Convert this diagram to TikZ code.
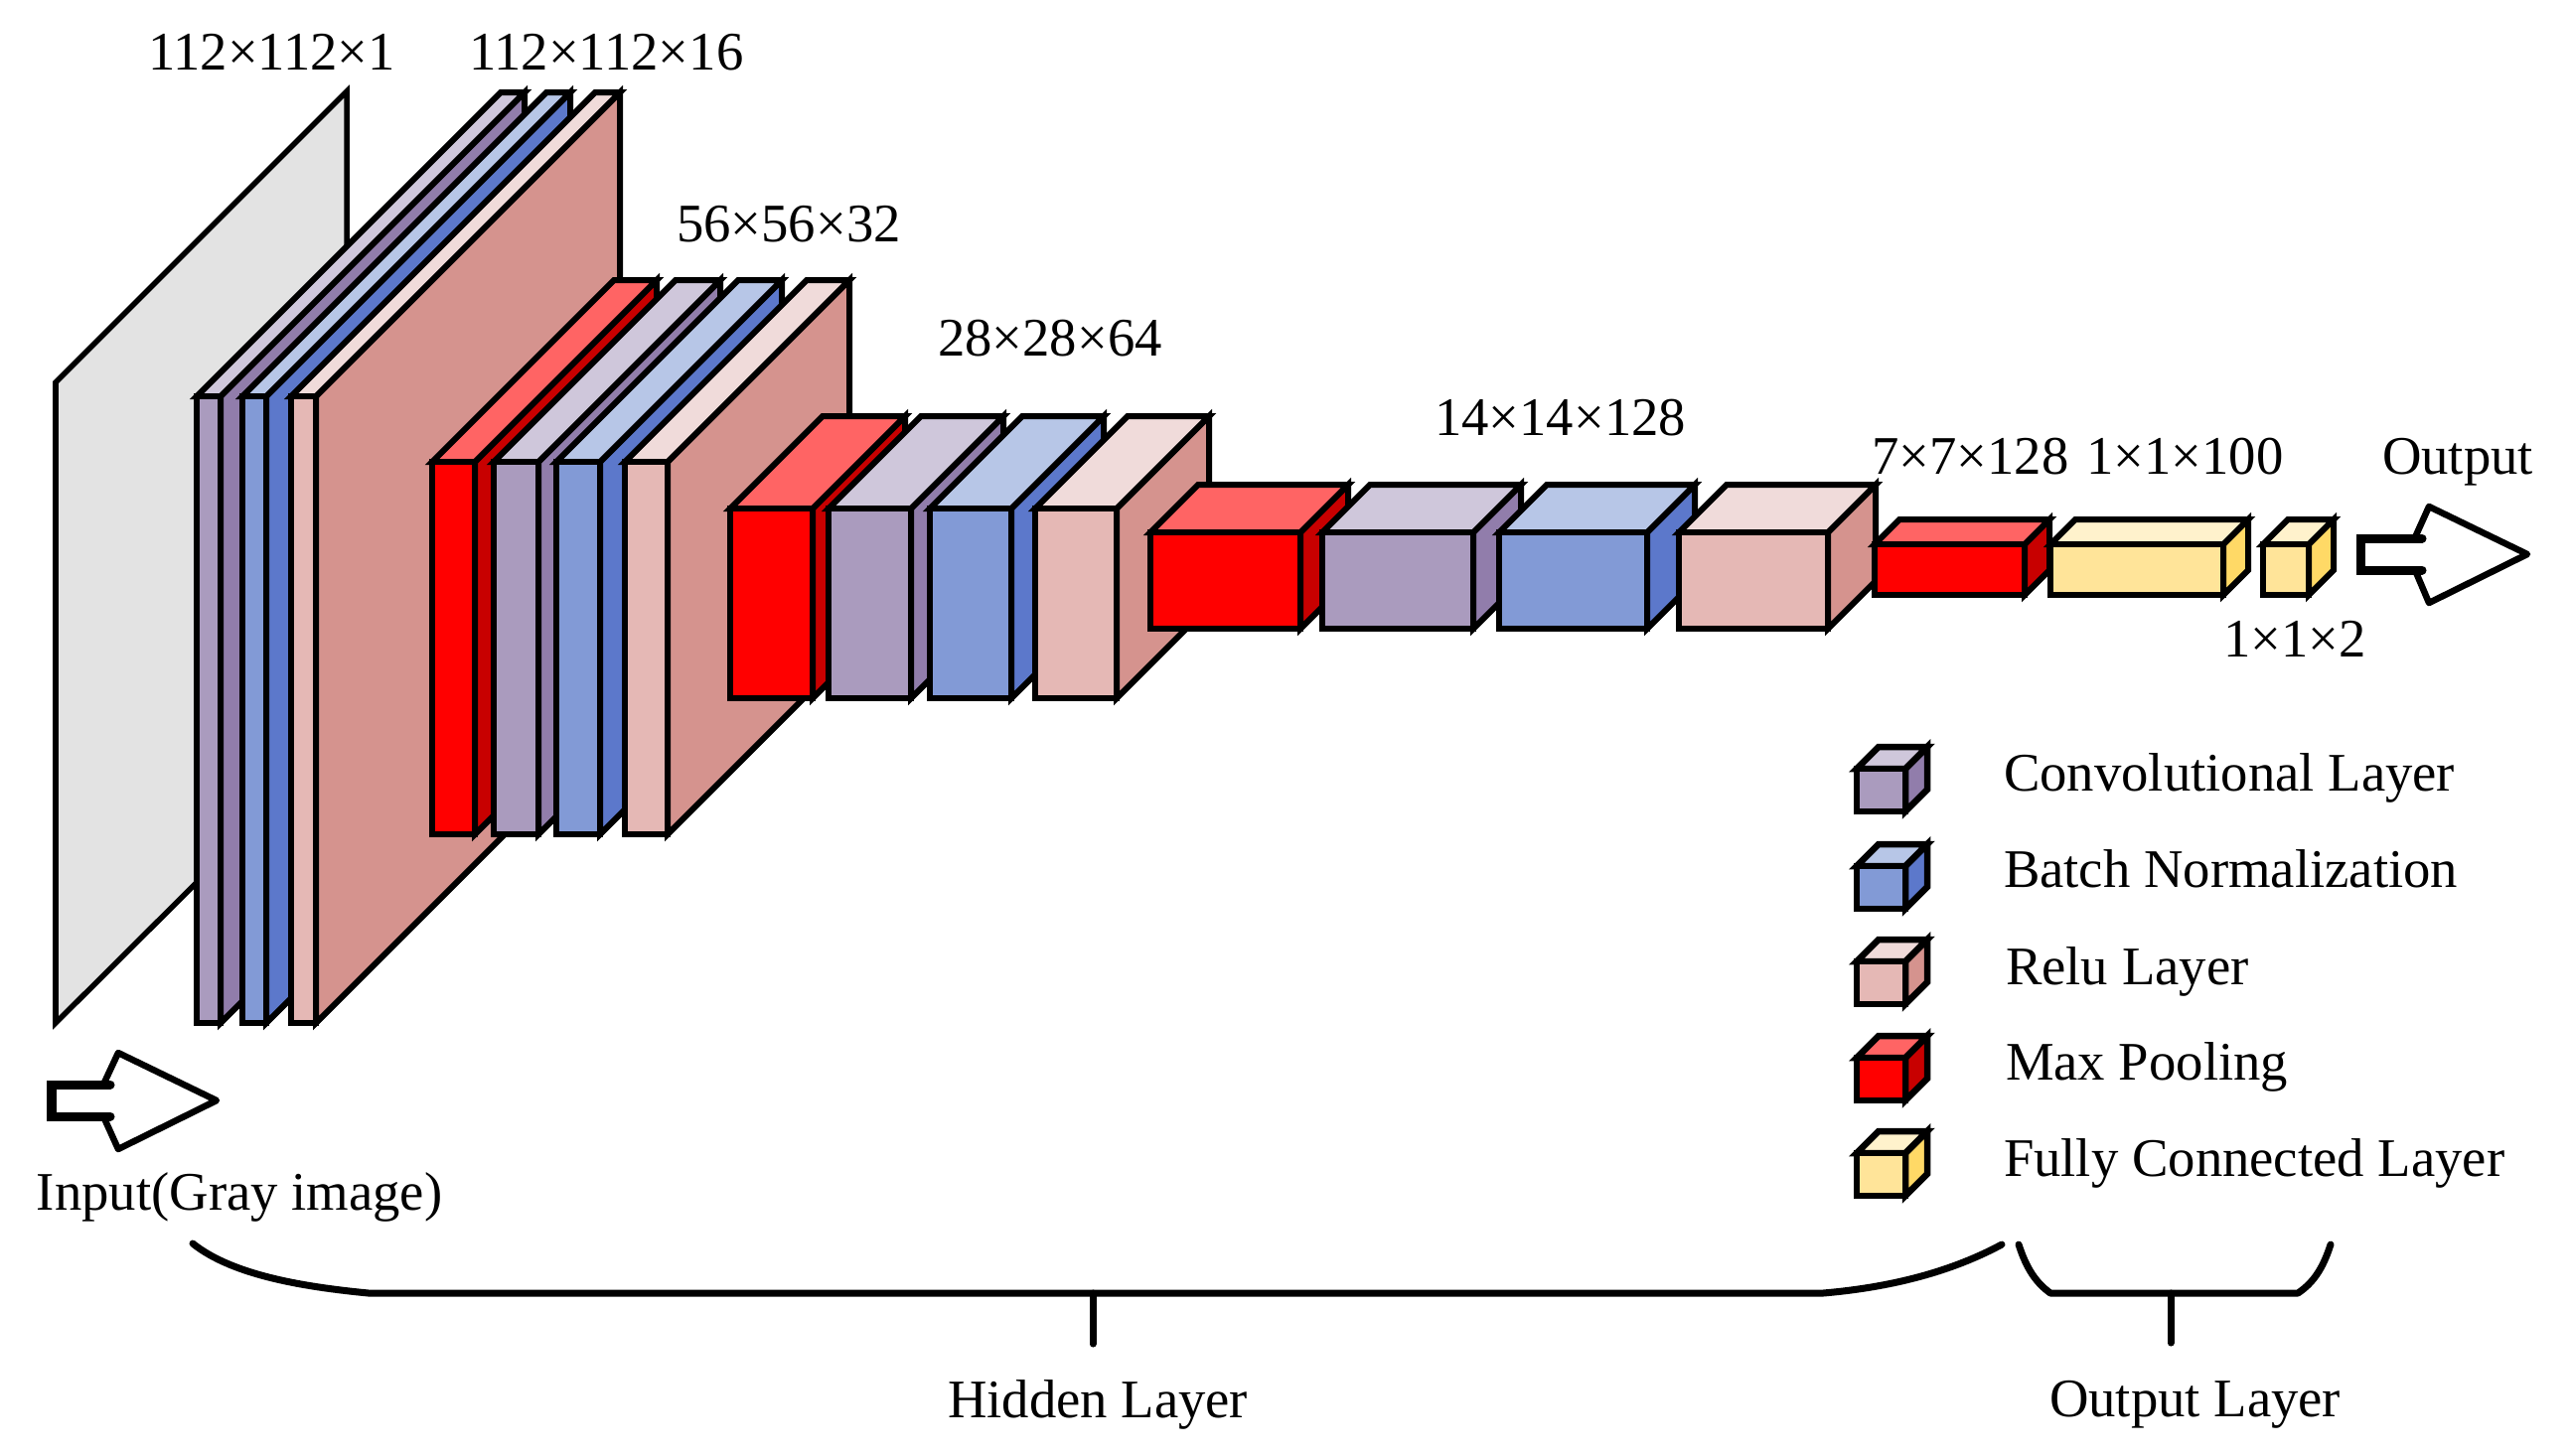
\documentclass[tikz,border=0pt]{standalone}
\usepackage{fontspec}
\setmainfont{Liberation Serif}
\definecolor{convF}{HTML}{AA9BBE}\definecolor{convT}{HTML}{CFC7DB}\definecolor{convS}{HTML}{917DAB}
\definecolor{bnF}{HTML}{829AD6}\definecolor{bnT}{HTML}{B7C6E7}\definecolor{bnS}{HTML}{5C78CB}
\definecolor{reluF}{HTML}{E5B8B5}\definecolor{reluT}{HTML}{F0DBDA}\definecolor{reluS}{HTML}{D5938E}
\definecolor{redF}{HTML}{FF0000}\definecolor{redT}{HTML}{FF6464}\definecolor{redS}{HTML}{C80000}
\definecolor{fcF}{HTML}{FFE499}\definecolor{fcT}{HTML}{FFF2CC}\definecolor{fcS}{HTML}{FFD966}
\definecolor{plane}{HTML}{E3E3E3}
\tikzset{
  blk/.style={draw=black,line width=0.06cm,line join=miter},
  boldblk/.style={blk/.append style={line width=0.065cm}},
  lbl/.style={anchor=base west,inner sep=0pt,outer sep=0pt,font=\fontsize{15.55}{18}\selectfont},
  brc/.style={draw=black,line width=0.07cm,line cap=round,line join=round},
  arrhead/.style={draw=black,line width=0.065cm,line join=round,line cap=round},
  arrtail/.style={draw=black,line width=0.09cm,line join=miter,line cap=round}
}
% x0 x1 ytop ybot depth colour
\newcommand{\cuboid}[6]{%
  \draw[blk,fill=#6S] (#2,#3) -- (#2+#5,#3-#5) -- (#2+#5,#4-#5) -- (#2,#4) -- cycle;
  \draw[blk,fill=#6T] (#1,#3) -- (#1+#5,#3-#5) -- (#2+#5,#3-#5) -- (#2,#3) -- cycle;
  \draw[blk,fill=#6F] (#1,#3) rectangle (#2,#4);
}
\begin{document}
\begin{tikzpicture}[x=0.01cm,y=-0.01cm]
\useasboundingbox (0,0) rectangle (2589,1465);
% input plane
\draw[blk,line width=0.055cm,fill=plane] (56,385) -- (349,92) -- (349,738) -- (56,1030) -- cycle;
% group 1
\cuboid{198}{222}{399}{1030}{306}{conv}
\cuboid{244}{268}{399}{1030}{306}{bn}
\cuboid{293}{318}{399}{1030}{306}{relu}
% group 2
\cuboid{435}{478}{465}{840}{183}{red}
\cuboid{497}{542}{465}{840}{183}{conv}
\cuboid{560}{604}{465}{840}{183}{bn}
\cuboid{629}{672}{465}{840}{183}{relu}
% group 3
\cuboid{735}{818}{512}{703}{93}{red}
\cuboid{834}{917}{512}{703}{93}{conv}
\cuboid{936}{1018}{512}{703}{93}{bn}
\cuboid{1042}{1124}{512}{703}{93}{relu}
% group 4
\cuboid{1158}{1309}{536}{633}{48}{red}
\cuboid{1331}{1483}{536}{633}{48}{conv}
\cuboid{1509}{1658}{536}{633}{48}{bn}
\cuboid{1690}{1840}{536}{633}{48}{relu}
% group 5
\cuboid{1887}{2038}{548}{599}{25}{red}
\cuboid{2064}{2238}{548}{599}{25}{fc}
\cuboid{2278}{2324}{548}{599}{25}{fc}
\begin{scope}[boldblk]
% legend cubes
\cuboid{1869}{1918}{774}{817}{22}{conv}
\cuboid{1869}{1918}{872}{915}{22}{bn}
\cuboid{1869}{1918}{968}{1011}{22}{relu}
\cuboid{1869}{1918}{1065}{1108}{22}{red}
\cuboid{1869}{1918}{1161}{1204}{22}{fc}
\end{scope}
% input arrow
\draw[arrhead] (105,1090) -- (119,1060) -- (218,1108) -- (119,1157) -- (105,1126);
\draw[arrtail] (111,1092) -- (52,1092) -- (52,1124) -- (111,1124);
% output arrow
\draw[arrhead] (2431,541) -- (2445,510) -- (2544,558) -- (2445,607) -- (2431,574);
\draw[arrtail] (2438,542) -- (2376,542) -- (2376,574) -- (2438,574);
% braces
\coordinate (hidL) at (194,1252);
\coordinate (hidA) at (371,1302);
\coordinate (hidB) at (1835,1302);
\coordinate (hidR) at (2015,1253);
\coordinate (hidT) at (1100,1302);
\coordinate (hidS) at (1100,1353);
\draw[brc] (hidL) .. controls (235,1285) and (310,1296) .. (hidA) -- (hidB) .. controls (1905,1296) and (1965,1280) .. (hidR);
\draw[brc] (hidT) -- (hidS);
\coordinate (outL) at (2032,1253);
\coordinate (outA) at (2064,1302);
\coordinate (outB) at (2313,1302);
\coordinate (outR) at (2346,1253);
\coordinate (outT) at (2185,1302);
\coordinate (outS) at (2185,1352);
\draw[brc] (outL) .. controls (2040,1278) and (2050,1292) .. (outA) -- (outB) .. controls (2328,1292) and (2338,1278) .. (outR);
\draw[brc] (outT) -- (outS);
% labels
\node[lbl] (t1) at (149,70) {112×112×1};
\node[lbl] (t2) at (472,70) {112×112×16};
\node[lbl] (t3) at (681,243) {56×56×32};
\node[lbl] (t4) at (944,358) {28×28×64};
\node[lbl] (t5) at (1444,438) {14×14×128};
\node[lbl] (t6) at (1884,477) {7×7×128};
\node[lbl] (t7) at (2100,477) {1×1×100};
\node[lbl] (t8) at (2238,661) {1×1×2};
\node[lbl] (out) at (2398,477) {Output};
\node[lbl] (inp) at (37,1218) {Input(Gray image)};
\node[lbl] (hid) at (954,1427) {Hidden Layer};
\node[lbl] (oul) at (2063,1426) {Output Layer};
\node[lbl] (l1) at (2017,796) {Convolutional Layer};
\node[lbl] (l2) at (2017,893) {Batch Normalization};
\node[lbl] (l3) at (2019,991) {Relu Layer};
\node[lbl] (l4) at (2019,1087) {Max Pooling};
\node[lbl] (l5) at (2017,1184) {Fully Connected Layer};
\end{tikzpicture}
\end{document}
